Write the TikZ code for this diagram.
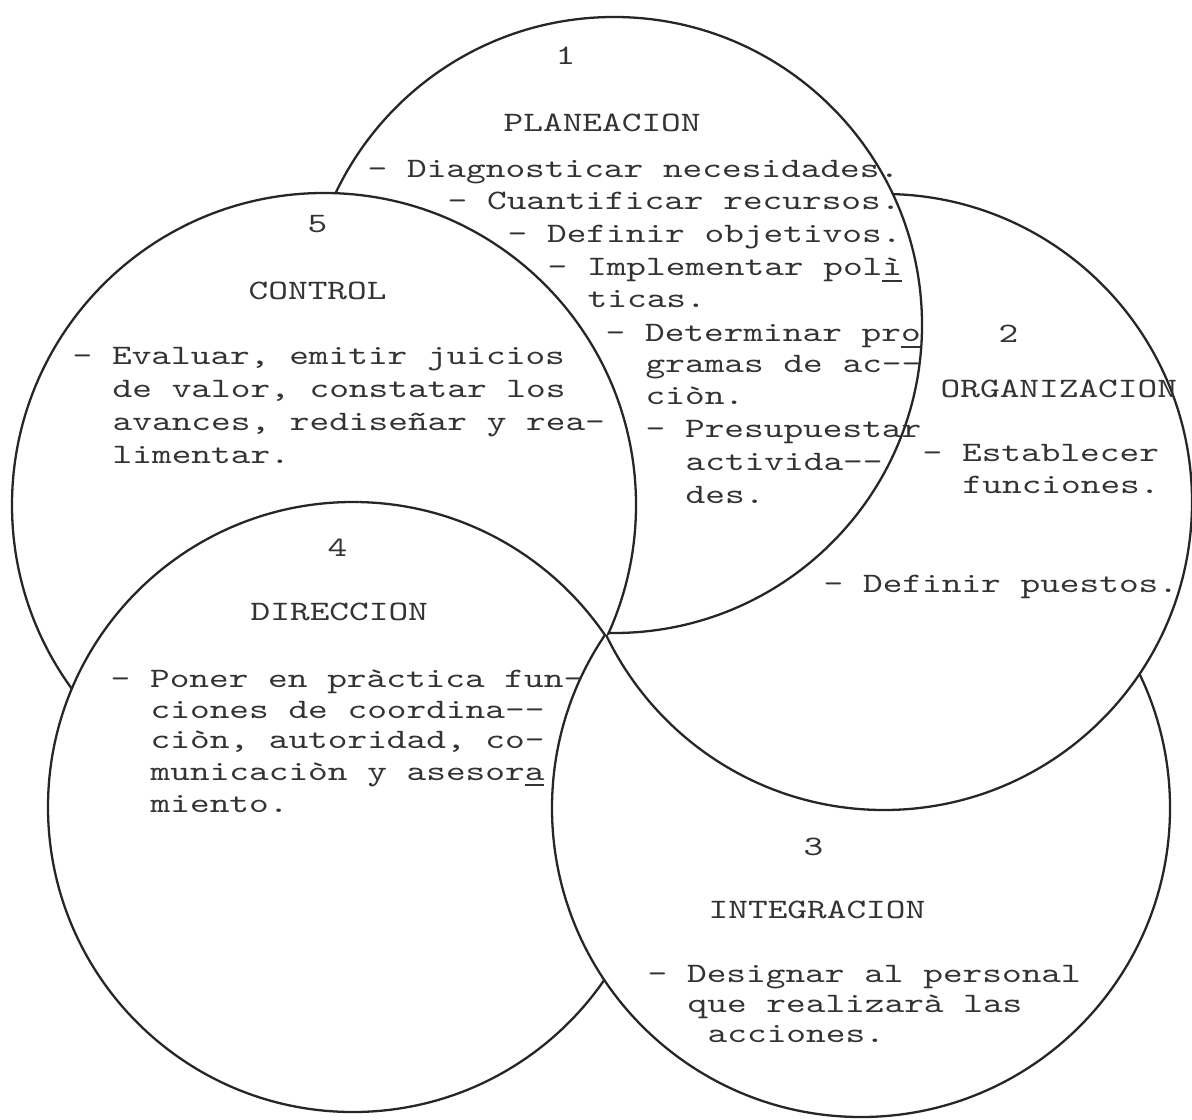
\documentclass[tikz,border=0pt]{standalone}
\usepackage{fontspec}
\newfontfamily\tw{lmmono10-regular.otf}[FakeStretch=1.333]
\usetikzlibrary{calc}

\tikzset{
  ring/.style={draw=black!85, fill=white, line width=0.65pt},
  txt/.style={anchor=base west, inner sep=0pt, text=black!80, font=\tw\fontsize{8}{9}\selectfont},
}

\begin{document}
\begin{tikzpicture}[x=0.01cm, y=-0.01cm]
    \useasboundingbox (0,0) rectangle (1192,1119);
    % the five rings, the lowest one first
    \foreach \cx/\cy/\r in {324/505/312, 353/807/305, 861/808/309, 884/502/308, 614/325/308} {
        \draw[ring] (\cx,\cy) circle (\r);
    }
    % ring 5 lies over ring 1 (and ring 4 over ring 5)
    \begin{scope}
        \clip (614,325) circle (310);
        \draw[ring] (324,505) circle (312);
        \clip (324,505) circle (312);
        \draw[ring, fill=none] (353,807) circle (305);
    \end{scope}

    % 1 PLANEACION
    \node[txt] (n1) at (555,65) {1};
    \node[txt] (t1) at (503,132) {PLANEACION};
    \foreach \x/\y/\t [count=\i] in {
        367/178/{- Diagnosticar necesidades.},
        447/210/{- Cuantificar recursos.},
        507/243/{- Definir objetivos.},
        547/276/{- Implementar pol\underline{ì}},
        587/308/{ticas.},
        605/342/{- Determinar pr\underline{o}},
        645/373/{gramas de ac-{}-},
        645/405/{ciòn.},
        645/437/{- Presupuestar},
        685/470/{activida-{}-},
        685/503/{des.}} {
        \node[txt] (p\i) at (\x,\y) {\t};
    }

    % 2 ORGANIZACION
    \node[txt] (n2) at (998,343) {2};
    \node[txt] (t2) at (940,398) {ORGANIZACION};
    \foreach \x/\y/\t [count=\i] in {
        922/462/{- Establecer},
        962/493/{funciones.},
        823/592/{- Definir puestos.}} {
        \node[txt] (o\i) at (\x,\y) {\t};
    }

    % 3 INTEGRACION
    \node[txt] (n3) at (803,855) {3};
    \node[txt] (t3) at (708,918) {INTEGRACION};
    \foreach \x/\y/\t [count=\i] in {
        647/982/{- Designar al personal},
        687/1012/{que realizarà las},
        707/1042/{acciones.}} {
        \node[txt] (i\i) at (\x,\y) {\t};
    }

    % 4 DIRECCION
    \node[txt] (n4) at (327,556) {4};
    \node[txt] (t4) at (250,620) {DIRECCION};
    \foreach \x/\y/\t [count=\i] in {
        110/687/{- Poner en pràctica fun-},
        150/718/{ciones de coordina-{}-},
        150/748/{ciòn, autoridad, co-},
        150/780/{municaciòn y asesor\underline{a}},
        150/812/{miento.}} {
        \node[txt] (d\i) at (\x,\y) {\t};
    }

    % 5 CONTROL
    \node[txt] (n5) at (307,233) {5};
    \node[txt] (t5) at (248,300) {CONTROL};
    \foreach \x/\y/\t [count=\i] in {
        72/365/{- Evaluar, emitir juicios},
        112/398/{de valor, constatar los},
        112/430/{avances, rediseñar y rea-},
        112/463/{limentar.}} {
        \node[txt] (c\i) at (\x,\y) {\t};
    }
\end{tikzpicture}
\end{document}
